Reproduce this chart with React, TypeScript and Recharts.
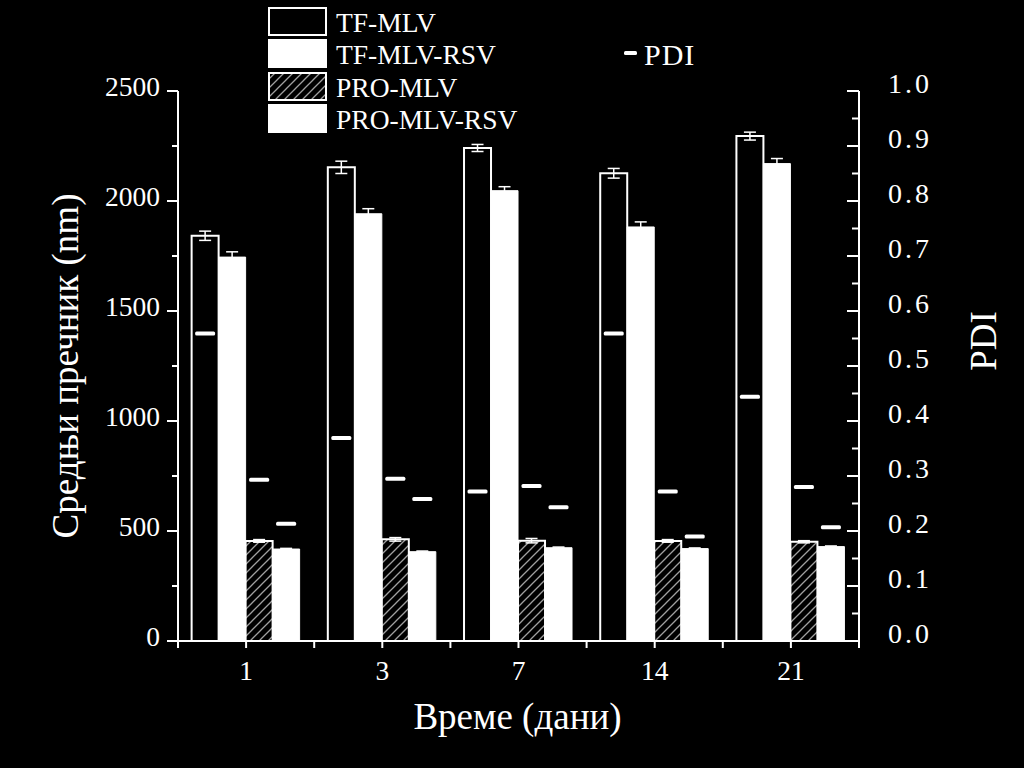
import React from 'react';
import { ComposedChart, Bar, XAxis, YAxis, ErrorBar, Legend, Label } from 'recharts';

// ---------- data ----------
const days = ['1', '3', '7', '14', '21'];
const tfMlv = [1842, 2153, 2241, 2126, 2295];
const tfMlvErr = [21, 28, 16, 22, 18];
const tfMlvRsv = [1745, 1942, 2047, 1882, 2170];
const tfMlvRsvErr = [24, 23, 18, 23, 23];
const proMlv = [455, 462, 456, 455, 451];
const proMlvErr = [6, 8, 10, 6, 5];
const proMlvRsv = [418, 406, 424, 420, 429];
const proMlvRsvErr = [3, 3, 3, 3, 3];
const pdiTfMlv = [0.559, 0.369, 0.272, 0.559, 0.444];
const pdiTfMlvRsv: (number | null)[] = [null, null, null, null, null];
const pdiProMlv = [0.293, 0.295, 0.282, 0.272, 0.28];
const pdiProMlvRsv = [0.213, 0.258, 0.243, 0.19, 0.207];

const sizeTicks = [0, 250, 500, 750, 1000, 1250, 1500, 1750, 2000, 2250, 2500];
const sizeLabels = [0, 500, 1000, 1500, 2000, 2500];
const pdiTicks = [0, 0.05, 0.1, 0.15, 0.2, 0.25, 0.3, 0.35, 0.4, 0.45, 0.5, 0.55, 0.6, 0.65, 0.7, 0.75, 0.8, 0.85, 0.9, 0.95, 1.0];
const pdiLabels = ['0.0', '0.1', '0.2', '0.3', '0.4', '0.5', '0.6', '0.7', '0.8', '0.9', '1.0'];

const seriesNames = ['TF-MLV', 'TF-MLV-RSV', 'PRO-MLV', 'PRO-MLV-RSV'];

const data = days.map((d, i) => ({
  day: d,
  tfMlv: tfMlv[i],
  tfMlvErr: tfMlvErr[i],
  tfMlvRsv: tfMlvRsv[i],
  tfMlvRsvErr: tfMlvRsvErr[i],
  proMlv: proMlv[i],
  proMlvErr: proMlvErr[i],
  proMlvRsv: proMlvRsv[i],
  proMlvRsvErr: proMlvRsvErr[i],
  pdiTfMlv: pdiTfMlv[i],
  pdiTfMlvRsv: pdiTfMlvRsv[i],
  pdiProMlv: pdiProMlv[i],
  pdiProMlvRsv: pdiProMlvRsv[i],
}));

// ---------- layout ----------
const W = 1024;
const H = 768;
const PLOT_L = 178;
const PLOT_R = 859;
const PLOT_T = 91;
const PLOT_B = 641;
const LEFT_AXIS_W = 150;
const RIGHT_AXIS_W = 140;
const X_AXIS_H = 100;
const FONT = '"Liberation Serif", "Times New Roman", serif';
const WHITE = '#ffffff';

const margin = {
  top: PLOT_T,
  left: PLOT_L - LEFT_AXIS_W,
  right: W - PLOT_R - RIGHT_AXIS_W,
  bottom: H - PLOT_B - X_AXIS_H,
};

const LeftTick = (props: any) => {
  const { x, y, payload } = props;
  const v = payload.value;
  const major = sizeLabels.includes(v);
  return (
    <g>
      <line x1={x} x2={x - (major ? 11 : 6)} y1={y} y2={y} stroke={WHITE} strokeWidth={2} />
      {major && (
        <text x={x - 18} y={y + 5} textAnchor="end" fill={WHITE} fontSize={27.5} fontFamily={FONT}>
          {v}
        </text>
      )}
    </g>
  );
};

const RightTick = (props: any) => {
  const { x, y, payload } = props;
  const v = payload.value;
  const lbl = v.toFixed(1);
  const major = Math.abs(v * 10 - Math.round(v * 10)) < 1e-6 && pdiLabels.includes(lbl);
  return (
    <g>
      <line x1={x} x2={x - (major ? 12 : 7)} y1={y} y2={y} stroke={WHITE} strokeWidth={2} />
      {major && (
        <text x={x + 29} y={y + 2} textAnchor="start" fill={WHITE} fontSize={28} letterSpacing={3} fontFamily={FONT}>
          {lbl}
        </text>
      )}
    </g>
  );
};

const XTick = (props: any) => {
  const { x, y, payload, index } = props;
  const band = (PLOT_R - PLOT_L) / days.length;
  return (
    <g>
      <line x1={x} x2={x} y1={y} y2={y + 7} stroke={WHITE} strokeWidth={2} />
      <line x1={x - band / 2} x2={x - band / 2} y1={y} y2={y + 7} stroke={WHITE} strokeWidth={2} />
      {index === days.length - 1 && (
        <line x1={x + band / 2} x2={x + band / 2} y1={y} y2={y + 7} stroke={WHITE} strokeWidth={2} />
      )}
      <text x={x} y={y + 39} textAnchor="middle" fill={WHITE} fontSize={27.5} fontFamily={FONT}>
        {payload.value}
      </text>
    </g>
  );
};

const dashShape = (key: string) => (props: any) => {
  const { x, y, width, payload } = props;
  if (payload == null || payload[key] == null || !isFinite(y)) return <g />;
  const inset = 3.5;
  return <rect x={x + inset} y={y - 2} width={width - inset * 2} height={4} rx={1.5} fill={WHITE} />;
};

const legendSwatches = [
  { fill: '#000', stroke: WHITE },
  { fill: WHITE, stroke: WHITE },
  { fill: 'url(#hatch)', stroke: WHITE },
  { fill: WHITE, stroke: WHITE },
];

const LegendContent = () => (
  <div style={{ position: 'relative', width: 450, height: 135, fontFamily: FONT, color: WHITE }}>
    {seriesNames.map((n, i) => (
      <div key={n} style={{ position: 'absolute', left: 0, top: i * 32.3, height: 30, display: 'flex', alignItems: 'center' }}>
        <svg width={60} height={30} style={{ display: 'block' }}>
          <rect x={1} y={2} width={57} height={27} fill={legendSwatches[i].fill} stroke={legendSwatches[i].stroke} strokeWidth={2} />
        </svg>
        <span style={{ marginLeft: 8, fontSize: 27.5, lineHeight: '30px', whiteSpace: 'nowrap', position: 'relative', top: 2 }}>{n}</span>
      </div>
    ))}
    <div style={{ position: 'absolute', left: 355, top: 32.3, height: 30, display: 'flex', alignItems: 'center' }}>
      <svg width={15} height={30} style={{ display: 'block' }}>
        <rect x={1} y={13} width={13} height={4} rx={1.5} fill={WHITE} />
      </svg>
      <span style={{ marginLeft: 6, fontSize: 30, lineHeight: '30px', position: 'relative', top: 2, letterSpacing: 1 }}>PDI</span>
    </div>
  </div>
);

const LeftTitle = (props: any) => {
  const vb = props.viewBox || {};
  const cx = vb.x + 37;
  const cy = vb.y + vb.height / 2;
  return (
    <text x={cx} y={cy} transform={`rotate(-90 ${cx} ${cy})`} textAnchor="middle" dominantBaseline="central" fill={WHITE} fontSize={37} fontFamily={FONT}>
      Средњи пречник (nm)
    </text>
  );
};

const RightTitle = (props: any) => {
  const vb = props.viewBox || {};
  const cx = vb.x + 124;
  const cy = vb.y + vb.height / 2 - 25;
  return (
    <text x={cx} y={cy} transform={`rotate(-90 ${cx} ${cy})`} textAnchor="middle" dominantBaseline="central" fill={WHITE} fontSize={37} fontFamily={FONT}>
      PDI
    </text>
  );
};

const BottomTitle = (props: any) => {
  const vb = props.viewBox || {};
  const cx = vb.x + vb.width / 2 - 1;
  const cy = vb.y + 75;
  return (
    <text x={cx} y={cy} textAnchor="middle" dominantBaseline="central" fill={WHITE} fontSize={37} fontFamily={FONT}>
      Време (дани)
    </text>
  );
};

export default function App() {
  return (
    <div style={{ position: 'absolute', left: 0, top: 0, width: W, height: H, background: '#000', overflow: 'hidden' }}>
      <ComposedChart
        width={W}
        height={H}
        data={data}
        margin={margin}
        barGap={0}
        barCategoryGap="10%"
        style={{ fontFamily: FONT }}
      >
        <defs>
          <pattern id="hatch" patternUnits="userSpaceOnUse" width={9} height={9}>
            <rect x={0} y={0} width={9} height={9} fill="#000" />
            <path d="M0,9 L9,0 M-2,2 L2,-2 M7,11 L11,7" stroke="#a0a0a0" strokeWidth={1.3} />
          </pattern>
        </defs>
        <XAxis
          xAxisId="main"
          dataKey="day"
          height={X_AXIS_H}
          axisLine={{ stroke: WHITE, strokeWidth: 2 }}
          tickLine={false}
          tickSize={0}
          tickMargin={0}
          tick={<XTick />}
          interval={0}
        >
          <Label content={<BottomTitle />} />
        </XAxis>
        <XAxis xAxisId="pdi" dataKey="day" hide />
        <YAxis
          yAxisId="left"
          orientation="left"
          width={LEFT_AXIS_W}
          domain={[0, 2500]}
          ticks={sizeTicks}
          interval={0}
          axisLine={{ stroke: WHITE, strokeWidth: 2 }}
          tickLine={false}
          tickSize={0}
          tickMargin={0}
          tick={<LeftTick />}
          allowDataOverflow
        >
          <Label content={<LeftTitle />} />
        </YAxis>
        <YAxis
          yAxisId="right"
          orientation="right"
          width={RIGHT_AXIS_W}
          domain={[0, 1]}
          ticks={pdiTicks}
          interval={0}
          axisLine={{ stroke: WHITE, strokeWidth: 2 }}
          tickLine={false}
          tickSize={0}
          tickMargin={0}
          tick={<RightTick />}
          allowDataOverflow
        >
          <Label content={<RightTitle />} />
        </YAxis>
        <Legend
          layout="vertical"
          align="center"
          verticalAlign="middle"
          content={<LegendContent />}
          wrapperStyle={{ left: 268, top: 6, width: 450, height: 135 }}
        />
        <Bar xAxisId="main" yAxisId="left" dataKey="tfMlv" name={seriesNames[0]} fill="#000" stroke={WHITE} strokeWidth={2} isAnimationActive={false}>
          <ErrorBar dataKey="tfMlvErr" width={6} stroke={WHITE} strokeWidth={1.5} direction="y" />
        </Bar>
        <Bar xAxisId="main" yAxisId="left" dataKey="tfMlvRsv" name={seriesNames[1]} fill={WHITE} stroke={WHITE} strokeWidth={1} isAnimationActive={false}>
          <ErrorBar dataKey="tfMlvRsvErr" width={6} stroke={WHITE} strokeWidth={1.5} direction="y" />
        </Bar>
        <Bar xAxisId="main" yAxisId="left" dataKey="proMlv" name={seriesNames[2]} fill="url(#hatch)" stroke={WHITE} strokeWidth={2} isAnimationActive={false}>
          <ErrorBar dataKey="proMlvErr" width={6} stroke={WHITE} strokeWidth={1.5} direction="y" />
        </Bar>
        <Bar xAxisId="main" yAxisId="left" dataKey="proMlvRsv" name={seriesNames[3]} fill={WHITE} stroke={WHITE} strokeWidth={1} isAnimationActive={false}>
          <ErrorBar dataKey="proMlvRsvErr" width={6} stroke={WHITE} strokeWidth={1.5} direction="y" />
        </Bar>
        <Bar xAxisId="pdi" yAxisId="right" dataKey="pdiTfMlv" name="PDI" shape={dashShape('pdiTfMlv')} isAnimationActive={false} legendType="none" />
        <Bar xAxisId="pdi" yAxisId="right" dataKey="pdiTfMlvRsv" name="PDI TF-MLV-RSV" shape={dashShape('pdiTfMlvRsv')} isAnimationActive={false} legendType="none" />
        <Bar xAxisId="pdi" yAxisId="right" dataKey="pdiProMlv" name="PDI PRO-MLV" shape={dashShape('pdiProMlv')} isAnimationActive={false} legendType="none" />
        <Bar xAxisId="pdi" yAxisId="right" dataKey="pdiProMlvRsv" name="PDI PRO-MLV-RSV" shape={dashShape('pdiProMlvRsv')} isAnimationActive={false} legendType="none" />
      </ComposedChart>
    </div>
  );
}
